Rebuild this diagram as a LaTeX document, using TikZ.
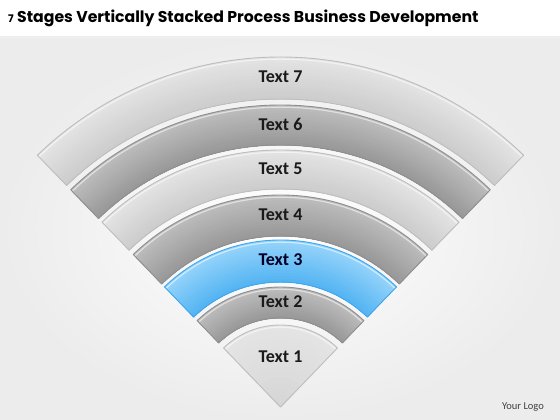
\documentclass[tikz,border=0pt]{standalone}
\usepackage{fontspec}
\setmainfont{Carlito}
\newfontfamily\titlefont{Poppins}
\usetikzlibrary{calc}
\definecolor{lighttop}{HTML}{E4E4E4}
\definecolor{lightbot}{HTML}{CDCDCD}
\definecolor{lightrim}{HTML}{BEBEBE}
\definecolor{darktop}{HTML}{BDBDBD}
\definecolor{darkbot}{HTML}{999999}
\definecolor{darkrim}{HTML}{8E8E8E}
\definecolor{bluetop}{HTML}{95D3FB}
\definecolor{bluebot}{HTML}{55B5F2}
\definecolor{bluerim}{HTML}{3DA6EE}
\definecolor{labelcol}{HTML}{1A1A1A}
\definecolor{bgedge}{HTML}{ECECEC}
\tikzset{
  lbl/.style={font=\bfseries\fontsize{18}{20}\selectfont, text=labelcol, inner sep=0pt},
}
% #1 inner radius, #2 outer radius, #3 top colour, #4 bottom colour, #5 rim colour
\newcommand\fanband[5]{%
  \begin{scope}[shift={(1.2,-2)}]
    \fill[black,opacity=0.13] ($(C)+(46:#2)$) arc[start angle=46,end angle=134,radius=#2]
      -- ($(C)+(134:#1)$) arc[start angle=134,end angle=46,radius=#1] -- cycle;
  \end{scope}
  \begin{scope}
    \clip ($(C)+(46:#2)$) arc[start angle=46,end angle=134,radius=#2]
      -- ($(C)+(134:#1)$) arc[start angle=134,end angle=46,radius=#1] -- cycle;
    \foreach \k in {0,...,13} {
      \pgfmathsetmacro\rr{#2-\k*(#2-#1)/14}
      \pgfmathtruncatemacro\pp{100-\k*100/13}
      \fill[#3!\pp!#4] (C) circle[radius=\rr];
    }
    \draw[white,opacity=0.55,line width=1.2] (C) circle[radius=#2-2.2];
  \end{scope}
  \draw[#5,line width=0.9,line join=round] ($(C)+(46:#2)$) arc[start angle=46,end angle=134,radius=#2]
      -- ($(C)+(134:#1)$) arc[start angle=134,end angle=46,radius=#1] -- cycle;
}
\begin{document}
\begin{tikzpicture}[x=1pt,y=1pt]
\useasboundingbox (0,0) rectangle (560,420);
\fill[white] (0,0) rectangle (560,420);
\shade[inner color=white, outer color=bgedge] (0,0) rectangle (560,383);
\draw[gray!12,line width=0.6] (0,383) -- (560,383);
\coordinate (C) at (280.5,13);
% bands
\fanband{308}{350}{lighttop}{lightbot}{lightrim}
\fanband{262}{302}{darktop}{darkbot}{darkrim}
\fanband{218}{257}{lighttop}{lightbot}{lightrim}
\fanband{171}{212}{darktop}{darkbot}{darkrim}
\fanband{125}{167}{bluetop}{bluebot}{bluerim}
\fanband{89}{120}{darktop}{darkbot}{darkrim}
\fanband{0.01}{82}{lighttop}{lightbot!60!lighttop}{lightrim}
% labels
\node[lbl] (t7) at ($(C)+(90:330)$) {Text 7};
\node[lbl] (t6) at ($(C)+(90:283)$) {Text 6};
\node[lbl] (t5) at ($(C)+(90:238)$) {Text 5};
\node[lbl] (t4) at ($(C)+(90:192)$) {Text 4};
\node[lbl, text=black!85!blue] (t3) at ($(C)+(90:147)$) {Text 3};
\node[lbl] (t2) at ($(C)+(90:105)$) {Text 2};
\node[lbl] (t1) at ($(C)+(90:50)$) {Text 1};
% title
\node[anchor=base west, inner sep=0pt] (title) at (17,397)
  {\titlefont\bfseries\fontsize{15.7}{19}\selectfont Stages Vertically Stacked Process Business Development};
\node[anchor=base east, inner sep=0pt, xshift=-3pt] (num) at (title.base west)
  {\titlefont\bfseries\fontsize{10.5}{12}\selectfont 7};
\node[anchor=center, inner sep=0pt, text=black!75] (logo) at (523,13) {\fontsize{10.5}{12}\selectfont Your Logo};
\end{tikzpicture}
\end{document}
